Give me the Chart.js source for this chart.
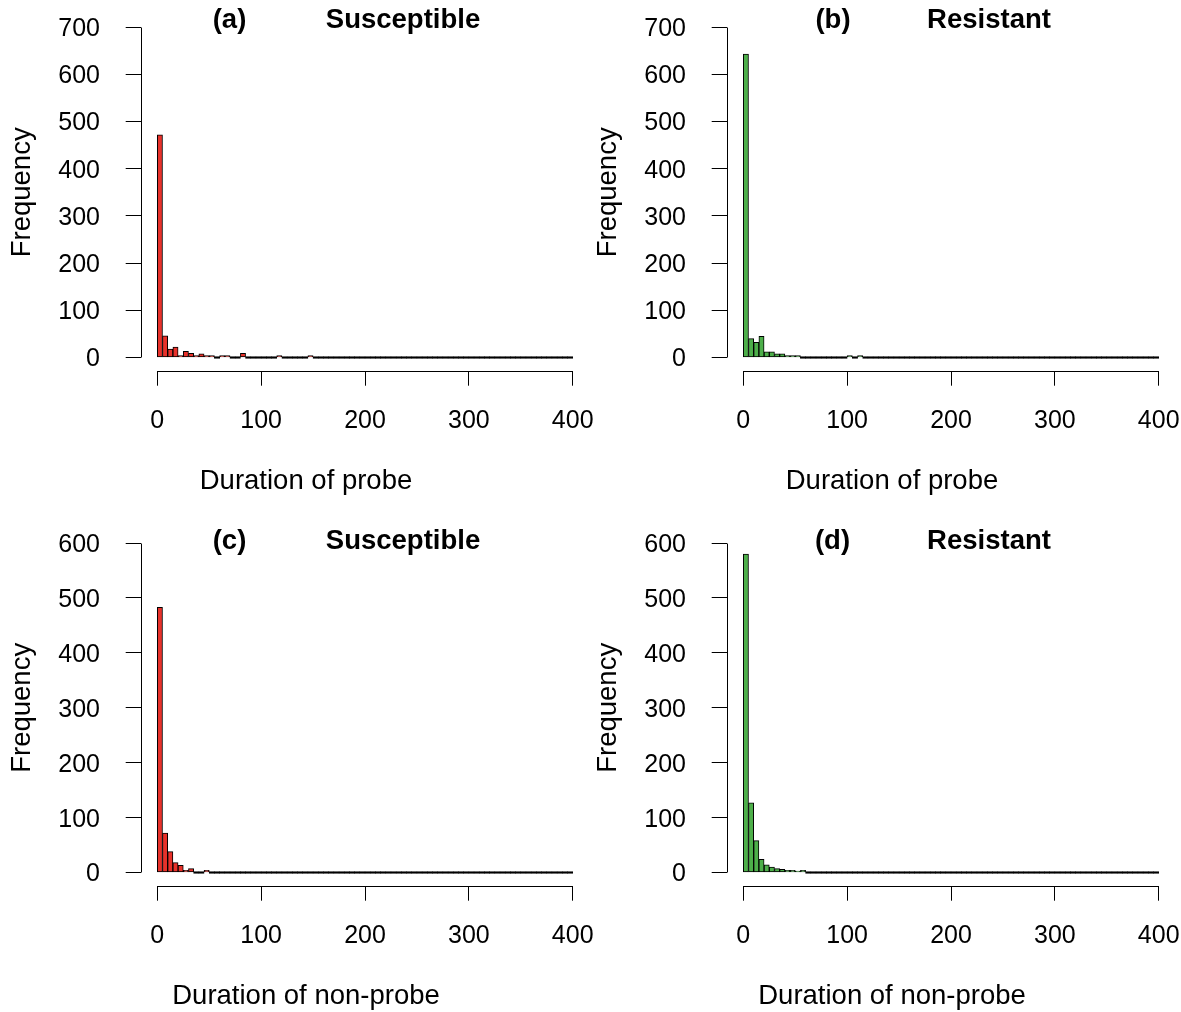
<!DOCTYPE html>
<html>
<head>
<meta charset="utf-8">
<script src="https://cdn.jsdelivr.net/npm/chart.js@4/dist/chart.umd.min.js"></script>
<style>
  html, body { margin: 0; padding: 0; background: #fff; }
  #wrap { position: relative; width: 1181px; height: 1012px; }
  #wrap canvas { position: absolute; }
</style>
</head>
<body>
<div id="wrap">
  <canvas id="pa" width="600" height="516" style="left:0;top:0"></canvas>
  <canvas id="pb" width="595" height="516" style="left:586px;top:0"></canvas>
  <canvas id="pc" width="600" height="496" style="left:0;top:516px"></canvas>
  <canvas id="pd" width="595" height="496" style="left:586px;top:516px"></canvas>
</div>
<script>
// histogram counts, bins of width 5 from 0 to 400
const binWidth = 5;
const xTicks = [0, 100, 200, 300, 400];
const probeTicks = [0, 100, 200, 300, 400, 500, 600, 700];
const nonProbeTicks = [0, 100, 200, 300, 400, 500, 600];

const probeSusceptible = [
  472, 46, 18, 22, 4, 13, 9, 4, 8, 4, 4, 0, 4, 4, 0, 0, 9, 0, 0, 0,
  0, 0, 0, 4, 0, 0, 0, 0, 0, 4, 0, 0, 0, 0, 0, 0, 0, 0, 0, 0,
  0, 0, 0, 0, 0, 0, 0, 0, 0, 0, 0, 0, 0, 0, 0, 0, 0, 0, 0, 0,
  0, 0, 0, 0, 0, 0, 0, 0, 0, 0, 0, 0, 0, 0, 0, 0, 0, 0, 0, 0
];
const probeResistant = [
  643, 40, 32, 45, 12, 12, 8, 8, 4, 4, 4, 0, 0, 0, 0, 0, 0, 0, 0, 0,
  4, 0, 4, 0, 0, 0, 0, 0, 0, 0, 0, 0, 0, 0, 0, 0, 0, 0, 0, 0,
  0, 0, 0, 0, 0, 0, 0, 0, 0, 0, 0, 0, 0, 0, 0, 0, 0, 0, 0, 0,
  0, 0, 0, 0, 0, 0, 0, 0, 0, 0, 0, 0, 0, 0, 0, 0, 0, 0, 0, 0
];
const nonProbeSusceptible = [
  483, 72, 38, 18, 13, 4, 7, 0, 0, 4, 0, 0, 0, 0, 0, 0, 0, 0, 0, 0,
  0, 0, 0, 0, 0, 0, 0, 0, 0, 0, 0, 0, 0, 0, 0, 0, 0, 0, 0, 0,
  0, 0, 0, 0, 0, 0, 0, 0, 0, 0, 0, 0, 0, 0, 0, 0, 0, 0, 0, 0,
  0, 0, 0, 0, 0, 0, 0, 0, 0, 0, 0, 0, 0, 0, 0, 0, 0, 0, 0, 0
];
const nonProbeResistant = [
  580, 127, 58, 24, 14, 10, 7, 6, 4, 4, 1, 4, 0, 0, 0, 0, 0, 0, 0, 0,
  0, 0, 0, 0, 0, 0, 0, 0, 0, 0, 0, 0, 0, 0, 0, 0, 0, 0, 0, 0,
  0, 0, 0, 0, 0, 0, 0, 0, 0, 0, 0, 0, 0, 0, 0, 0, 0, 0, 0, 0,
  0, 0, 0, 0, 0, 0, 0, 0, 0, 0, 0, 0, 0, 0, 0, 0, 0, 0, 0, 0
];

const RED = '#E8312A';
const GREEN = '#4DAF4A';
const FONT = '"Liberation Sans", Arial, Helvetica, sans-serif';

Chart.defaults.font.family = FONT;
Chart.defaults.color = '#000';

// R-style axis lines that only span the tick range, plus panel texts
const panelText = {
  id: 'panelText',
  afterDraw(chart, args, o) {
    const ctx = chart.ctx;
    const xs = chart.scales.x, ys = chart.scales.y;
    ctx.save();
    ctx.strokeStyle = '#000';
    ctx.lineWidth = 1;
    const ax = Math.round(ys.right) + 0.5;
    const ay = Math.round(xs.top) + 0.5;
    const yt = ys.ticks;
    ctx.beginPath();
    ctx.moveTo(ax, Math.round(ys.getPixelForValue(yt[0].value) - 0.5) + 0.5);
    ctx.lineTo(ax, Math.round(ys.getPixelForValue(yt[yt.length - 1].value) - 0.5) + 0.5);
    const xt = xs.ticks;
    ctx.moveTo(Math.round(xs.getPixelForValue(xt[0].value) - 0.5) + 0.5, ay);
    ctx.lineTo(Math.round(xs.getPixelForValue(xt[xt.length - 1].value) - 0.5) + 0.5, ay);
    ctx.stroke();

    ctx.fillStyle = '#000';
    ctx.textAlign = 'center';
    ctx.textBaseline = 'middle';
    ctx.font = 'bold 27.5px ' + FONT;
    ctx.fillText(o.tag, o.tagX, o.titleY);
    ctx.fillText(o.group, o.groupX, o.titleY);
    ctx.font = '27.5px ' + FONT;
    ctx.fillText(o.xLabel, o.xLabelX, o.xLabelY);
    ctx.restore();
  }
};

function makePanel(id, counts, color, yTicks, tag, group, xLabel, tagX) {
  const canvas = document.getElementById(id);
  const W = canvas.width, H = canvas.height;
  const yMax = yTicks[yTicks.length - 1];
  const pad = yMax * 0.04;
  const plotBottom = H === 516 ? 370.7 : 369.7;
  const points = counts.map((c, i) => ({ x: (i + 0.5) * binWidth, y: c }));
  const isEmpty = c => c.raw && c.raw.y === 0;

  new Chart(canvas, {
    type: 'bar',
    data: {
      datasets: [{
        data: points,
        // empty bins are drawn as a flat black outline, like R's hist()
        backgroundColor: c => (isEmpty(c) ? '#000' : color),
        inflateAmount: c => (isEmpty(c) ? 0.4 : 'auto'),
        borderColor: '#000',
        borderWidth: 1,
        borderSkipped: false,
        barPercentage: 1,
        categoryPercentage: 1,
        minBarLength: 1.5
      }]
    },
    options: {
      responsive: false,
      animation: false,
      layout: { padding: { top: 13.9, right: W - 589.3, left: 0, bottom: 0 } },
      plugins: {
        legend: { display: false },
        tooltip: { enabled: false },
        panelText: {
          tag: tag, group: group, xLabel: xLabel,
          tagX: tagX, groupX: 403, titleY: H === 516 ? 20 : 25,
          xLabelX: 306, xLabelY: H === 516 ? 481 : 480
        }
      },
      scales: {
        x: {
          type: 'linear',
          min: -16, max: 416,
          offset: false,
          afterBuildTicks: s => { s.ticks = xTicks.map(v => ({ value: v })); },
          afterFit: s => {
            s.height = H - plotBottom;
            s.paddingLeft = 0; s.paddingRight = 0;
          },
          grid: { offset: false, drawOnChartArea: false, drawTicks: true, tickLength: 15, color: '#000', lineWidth: 1 },
          border: { display: false },
          ticks: { font: { size: 25 }, color: '#000', padding: 20, autoSkip: false, maxRotation: 0 }
        },
        y: {
          min: -pad, max: yMax + pad,
          afterBuildTicks: s => { s.ticks = yTicks.map(v => ({ value: v })); },
          afterFit: s => {
            s.width = 140.7;
            s.paddingTop = 0; s.paddingBottom = 0;
          },
          grid: { drawOnChartArea: false, drawTicks: true, tickLength: 15, color: '#000', lineWidth: 1 },
          border: { display: false },
          ticks: { font: { size: 25 }, color: '#000', padding: 25.7, labelOffset: 2, autoSkip: false },
          title: { display: true, text: 'Frequency', font: { size: 27.5 }, color: '#000', padding: { top: 5.5, bottom: 0 } }
        }
      }
    },
    plugins: [panelText]
  });
}

makePanel('pa', probeSusceptible, RED, probeTicks, '(a)', 'Susceptible', 'Duration of probe', 229.5);
makePanel('pb', probeResistant, GREEN, probeTicks, '(b)', 'Resistant', 'Duration of probe', 247);
makePanel('pc', nonProbeSusceptible, RED, nonProbeTicks, '(c)', 'Susceptible', 'Duration of non-probe', 229.5);
makePanel('pd', nonProbeResistant, GREEN, nonProbeTicks, '(d)', 'Resistant', 'Duration of non-probe', 246.5);
</script>
</body>
</html>
